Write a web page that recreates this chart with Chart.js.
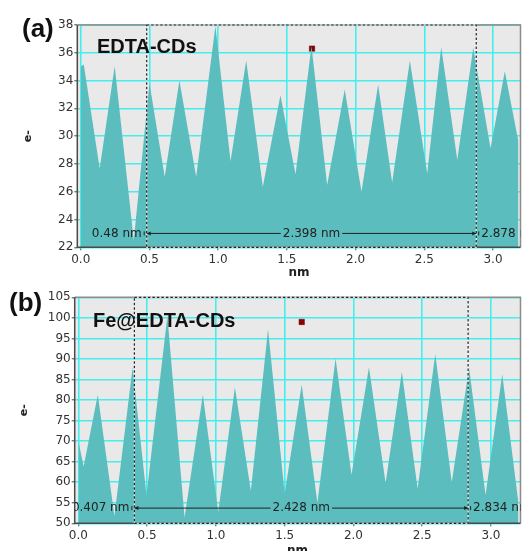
<!DOCTYPE html>
<html>
<head>
<meta charset="utf-8">
<script src="https://cdn.jsdelivr.net/npm/chart.js@4.4.0/dist/chart.umd.min.js"></script>
<style>
    html, body { margin: 0; padding: 0; background: #fff; overflow: hidden; width: 525px; height: 551px; }
    .panel { position: absolute; left: 0; width: 525px; }
    #wrapA { top: 0; height: 280px; }
    #wrapB { top: 280px; height: 290px; }
    .tag { position: absolute; font: bold 26px "Liberation Sans", Arial, sans-serif; color: #111; line-height: normal; }
</style>
</head>
<body>
<div class="panel" id="wrapA"><canvas id="chartA" width="525" height="280"></canvas></div>
<div class="panel" id="wrapB"><canvas id="chartB" width="525" height="290"></canvas></div>
<div class="tag" style="left:22px; top:13px;">(a)</div>
<div class="tag" style="left:9px; top:287px;">(b)</div>
<script>
// (a) EDTA-CDs line profile: positions (nm) of the peaks / valleys and their e- values
const xA = [
    0.0, 0.022, 0.138, 0.247, 0.386, 0.50, 0.611, 0.718, 0.84, 0.98,
    1.09, 1.204, 1.325, 1.453, 1.563, 1.679, 1.793, 1.921, 2.043, 2.164,
    2.266, 2.395, 2.521, 2.623, 2.74, 2.856, 2.982, 3.086, 3.185
];
const eA = [
    35.0, 35.16, 27.68, 35.04, 22.5, 33.83, 27.08, 34.0, 27.08, 37.93,
    28.2, 35.45, 26.36, 32.94, 27.25, 36.48, 26.48, 33.35, 26.0, 33.71,
    26.67, 35.45, 27.32, 36.41, 28.29, 36.36, 29.13, 34.68, 29.6
];

// (b) Fe@EDTA-CDs line profile
const xB = [
    0.0, 0.038, 0.141, 0.262, 0.394, 0.495, 0.647, 0.772, 0.905, 1.017,
    1.138, 1.254, 1.379, 1.5, 1.624, 1.738, 1.87, 1.986, 2.113, 2.234,
    2.352, 2.467, 2.595, 2.715, 2.841, 2.961, 3.082, 3.2
];
const eB = [
    69.9, 63.8, 81.3, 51.8, 87.9, 56.9, 100.4, 51.4, 81.3, 52.8,
    83.1, 57.9, 97.2, 57.3, 83.7, 55.0, 90.1, 61.8, 88.0, 59.8,
    86.8, 58.4, 91.2, 60.0, 87.8, 56.9, 86.3, 55.0
];

const xTicks = [0.0, 0.5, 1.0, 1.5, 2.0, 2.5, 3.0];
const yTicksA = [22, 24, 26, 28, 30, 32, 34, 36, 38];
const yTicksB = [50, 55, 60, 65, 70, 75, 80, 85, 90, 95, 100, 105];

// selection box edges and measurement labels
const spanA = [0.48, 2.878];
const spanLabelsA = ['0.48 nm', '2.398 nm', '2.878 nm'];
const spanB = [0.407, 2.834];
const spanLabelsB = ['0.407 nm', '2.428 nm', '2.834 nm'];
const measureYA = 23.0;
const measureYB = 53.7;

// red cursor marker [nm, e-]
const markerA = [1.683, 36.3];
const markerB = [1.624, 99.0];

Chart.defaults.font.family = '"DejaVu Sans", Verdana, sans-serif';
Chart.defaults.color = '#333';

const panelDecor = {
    id: 'panelDecor',
    beforeDraw(chart) {
        const {ctx, chartArea: a} = chart;
        ctx.save();
        ctx.fillStyle = '#e9e9e9';
        ctx.fillRect(a.left, a.top, a.right - a.left, a.bottom - a.top);
        ctx.restore();
    },
    afterDraw(chart, args, opts) {
        const {ctx, chartArea: a, scales: {x, y}} = chart;
        const x1 = x.getPixelForValue(opts.span[0]);
        const x2 = x.getPixelForValue(opts.span[1]);
        const my = y.getPixelForValue(opts.measureY);
        ctx.save();

        // frame
        ctx.lineWidth = 1.5;
        ctx.strokeStyle = '#8c8c8c';
        ctx.beginPath();
        ctx.moveTo(a.left, a.top);
        ctx.lineTo(a.right, a.top);
        ctx.lineTo(a.right, a.bottom);
        ctx.stroke();
        ctx.strokeStyle = '#4a4a4a';
        ctx.beginPath();
        ctx.moveTo(a.left, a.top);
        ctx.lineTo(a.left, a.bottom);
        ctx.lineTo(a.right, a.bottom);
        ctx.stroke();

        // dashed selection box
        ctx.lineWidth = 1.2;
        ctx.strokeStyle = 'rgba(255,255,255,0.85)';
        ctx.strokeRect(x1, a.top, x2 - x1, a.bottom - a.top);
        ctx.setLineDash([2.5, 2]);
        ctx.strokeStyle = '#222';
        ctx.strokeRect(x1, a.top, x2 - x1, a.bottom - a.top);
        ctx.setLineDash([]);

        // measurement line and labels, clipped to the plot
        ctx.beginPath();
        ctx.rect(a.left, a.top, a.right - a.left, a.bottom - a.top);
        ctx.clip();
        ctx.font = '12px "DejaVu Sans"';
        ctx.fillStyle = '#222';
        ctx.textBaseline = 'middle';
        const mid = (x1 + x2) / 2;
        const w = ctx.measureText(opts.labels[1]).width;
        ctx.strokeStyle = '#222';
        ctx.lineWidth = 1;
        ctx.beginPath();
        ctx.moveTo(x1, my);
        ctx.lineTo(mid - w / 2 - 2, my);
        ctx.moveTo(mid + w / 2 + 2, my);
        ctx.lineTo(x2, my);
        ctx.moveTo(x1 - 2.5, my - 2);
        ctx.lineTo(x1 - 2.5, my + 2);
        ctx.moveTo(x2 + 2.5, my - 2);
        ctx.lineTo(x2 + 2.5, my + 2);
        ctx.stroke();
        ctx.beginPath();
        ctx.moveTo(x1, my);
        ctx.lineTo(x1 + 4, my - 2);
        ctx.lineTo(x1 + 4, my + 2);
        ctx.closePath();
        ctx.moveTo(x2, my);
        ctx.lineTo(x2 - 4, my - 2);
        ctx.lineTo(x2 - 4, my + 2);
        ctx.closePath();
        ctx.fill();
        ctx.textAlign = 'right';
        ctx.fillText(opts.labels[0], x1 - 5, my);
        ctx.textAlign = 'center';
        ctx.fillText(opts.labels[1], mid, my);
        ctx.textAlign = 'left';
        ctx.fillText(opts.labels[2], x2 + 5, my);
        ctx.restore();

        // sample name
        ctx.save();
        ctx.font = 'bold 20px "Liberation Sans", Arial, sans-serif';
        ctx.fillStyle = '#111';
        ctx.textAlign = 'left';
        ctx.textBaseline = 'alphabetic';
        ctx.fillText(opts.name, opts.nameX, opts.nameY);
        ctx.restore();
    }
};

let chartInstances = {};

const createPanel = (canvasId, p) => {
    const ctx = document.getElementById(canvasId).getContext('2d');
    if (chartInstances[canvasId]) {
        chartInstances[canvasId].destroy();
    }

    const profile = p.xs.map((x, i) => ({x: x, y: p.values[i]}));

    chartInstances[canvasId] = new Chart(ctx, {
        type: 'line',
        data: {
            datasets: [
                {
                    data: profile,
                    fill: 'start',
                    tension: 0,
                    backgroundColor: '#5bbdbd',
                    borderColor: '#5bbdbd',
                    borderWidth: 0,
                    pointRadius: 0
                },
                {
                    data: [{x: p.marker[0], y: p.marker[1]}],
                    showLine: false,
                    pointStyle: 'rect',
                    pointRadius: 3.8,
                    backgroundColor: '#8b0000',
                    borderColor: '#6a0000',
                    borderWidth: 0.5
                }
            ]
        },
        options: {
            responsive: false,
            animation: false,
            layout: {padding: p.padding},
            plugins: {
                legend: {display: false},
                tooltip: {enabled: false},
                panelDecor: {
                    span: p.span,
                    labels: p.spanLabels,
                    measureY: p.measureY,
                    name: p.name,
                    nameX: p.nameX,
                    nameY: p.nameY
                }
            },
            scales: {
                x: {
                    type: 'linear',
                    min: p.xMin,
                    max: p.xMax,
                    afterBuildTicks: (s) => { s.ticks = xTicks.map((v) => ({value: v})); },
                    afterFit: (s) => { s.height = p.xAxisHeight; },
                    ticks: {
                        color: '#333',
                        font: {size: 12},
                        padding: 2,
                        maxRotation: 0,
                        callback: (v) => Number(v).toFixed(1)
                    },
                    grid: {color: '#45eeee', lineWidth: 1.6, tickColor: '#444', tickWidth: 1, tickLength: 3},
                    border: {display: false},
                    title: {
                        display: true,
                        text: 'nm',
                        color: '#222',
                        font: {size: 12, weight: 'bold'},
                        padding: {top: 0, bottom: 0}
                    }
                },
                y: {
                    min: p.yMin,
                    max: p.yMax,
                    afterBuildTicks: (s) => { s.ticks = p.yTicks.map((v) => ({value: v})); },
                    afterFit: (s) => { s.width = p.yAxisWidth; },
                    ticks: {color: '#333', font: {size: 12}, padding: 1},
                    grid: {color: '#45eeee', lineWidth: 1.6, tickColor: '#444', tickWidth: 1, tickLength: 3},
                    border: {display: false},
                    title: {
                        display: true,
                        text: 'e-',
                        color: '#222',
                        font: {size: 11, weight: 'bold'},
                        padding: {top: p.yTitlePad, bottom: 0}
                    }
                }
            }
        },
        plugins: [panelDecor]
    });
};

createPanel('chartA', {
    xs: xA,
    values: eA,
    marker: markerA,
    span: spanA,
    spanLabels: spanLabelsA,
    measureY: measureYA,
    name: 'EDTA-CDs',
    nameX: 97,
    nameY: 53,
    xMin: -0.025,
    xMax: 3.2,
    yMin: 22,
    yMax: 38,
    yTicks: yTicksA,
    padding: {left: 0, top: 25, right: 4, bottom: 0},
    xAxisHeight: 32.7,
    yAxisWidth: 77.3,
    yTitlePad: 22
});

createPanel('chartB', {
    xs: xB,
    values: eB,
    marker: markerB,
    span: spanB,
    spanLabels: spanLabelsB,
    measureY: measureYB,
    name: 'Fe@EDTA-CDs',
    nameX: 93,
    nameY: 46.7,
    xMin: -0.027,
    xMax: 3.215,
    yMin: 50,
    yMax: 105,
    yTicks: yTicksB,
    padding: {left: 0, top: 17.3, right: 1.5, bottom: 11.8},
    xAxisHeight: 34.9,
    yAxisWidth: 74.7,
    yTitlePad: 17.4
});
</script>
</body>
</html>
